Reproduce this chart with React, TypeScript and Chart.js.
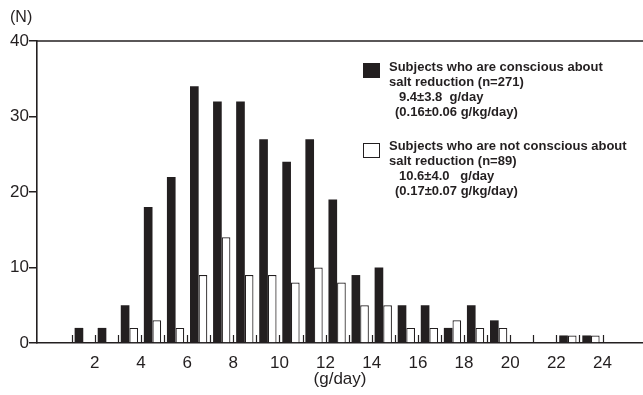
import React, { useEffect, useRef } from 'react';
import { Chart, registerables } from 'chart.js';

Chart.register(...registerables);

// ---- data ----
const binStarts = [1, 2, 3, 4, 5, 6, 7, 8, 9, 10, 11, 12, 13, 14, 15, 16, 17, 18, 19, 20, 21, 22, 23];
const consciousCounts = [2, 2, 5, 18, 22, 34, 32, 32, 27, 24, 27, 19, 9, 10, 5, 5, 2, 5, 3, 0, 0, 1, 1];
const notConsciousCounts = [0, 0, 2, 3, 2, 9, 14, 9, 9, 8, 10, 8, 5, 5, 2, 2, 3, 2, 2, 0, 0, 1, 1];
const xTickLabels = [2, 4, 6, 8, 10, 12, 14, 16, 18, 20, 22, 24];
const yTicks = [0, 10, 20, 30, 40];
const xTitle = '(g/day)';
const yTitle = '(N)';
const legendConscious = ['Subjects who are conscious about', 'salt reduction (n=271)', '9.4±3.8  g/day', '(0.16±0.06 g/kg/day)'];
const legendNotConscious = ['Subjects who are not conscious about', 'salt reduction (n=89)', '10.6±4.0   g/day', '(0.17±0.07 g/kg/day)'];

const INK = '#231f20';
const FONT = "'Liberation Sans', Arial, Helvetica, sans-serif";

const annotate = {
  id: 'annotate',
  afterDraw(chart: any) {
    const { ctx, chartArea, scales } = chart;
    const xs = scales.x;
    ctx.save();
    // top frame line
    ctx.strokeStyle = INK;
    ctx.lineWidth = 1.6;
    ctx.beginPath();
    ctx.moveTo(chartArea.left, chartArea.top);
    ctx.lineTo(chartArea.right, chartArea.top);
    ctx.stroke();
    // inner tick marks at bin boundaries
    ctx.lineWidth = 1.2;
    ctx.beginPath();
    const first = binStarts[0];
    const last = binStarts[binStarts.length - 1] + 1;
    for (let v = first; v <= last; v++) {
      const px = Math.round(xs.getPixelForValue(v)) + 0.5;
      ctx.moveTo(px, chartArea.bottom);
      ctx.lineTo(px, chartArea.bottom - 8);
    }
    ctx.stroke();
    // y unit
    ctx.fillStyle = INK;
    ctx.font = `16px ${FONT}`;
    ctx.textAlign = 'left';
    ctx.textBaseline = 'middle';
    ctx.fillText(yTitle, 10, 18);
    // legend
    const ds = chart.data.datasets;
    const groups = [
      { lines: legendConscious, top: 63, textY: 67, ds: ds[0] },
      { lines: legendNotConscious, top: 143, textY: 146, ds: ds[1] },
    ];
    const indents = [389, 389, 399, 395];
    ctx.font = `bold 13px ${FONT}`;
    groups.forEach((g) => {
      ctx.fillStyle = g.ds.backgroundColor;
      ctx.fillRect(363, g.top, 17, 15);
      ctx.strokeStyle = INK;
      ctx.lineWidth = 1;
      ctx.strokeRect(363.5, g.top + 0.5, 16, 14);
      ctx.fillStyle = INK;
      g.lines.forEach((t, i) => {
        ctx.fillText(t, indents[i], g.textY + i * 15.3);
      });
    });
    ctx.restore();
  },
};

export default function App() {
  const ref = useRef<HTMLCanvasElement | null>(null);
  useEffect(() => {
    if (!ref.current) return;
    const chart = new Chart(ref.current, {
      type: 'bar',
      data: {
        datasets: [
          {
            label: 'conscious',
            data: binStarts.map((b, i) => ({ x: b + 0.5, y: consciousCounts[i] })),
            backgroundColor: INK,
            borderWidth: 0,
            categoryPercentage: 0.75,
            barPercentage: 1,
          },
          {
            label: 'not conscious',
            data: binStarts.map((b, i) => ({ x: b + 0.5, y: notConsciousCounts[i] })),
            backgroundColor: '#ffffff',
            borderColor: INK,
            borderWidth: (c: any) => (c.raw && c.raw.y === 0 ? 0 : 1.2),
            categoryPercentage: 0.75,
            barPercentage: 1,
          },
        ] as any,
      },
      options: {
        responsive: false,
        animation: false,
        layout: { padding: { top: 41, right: 0, left: 0, bottom: 0 } },
        plugins: { legend: { display: false }, tooltip: { enabled: false } },
        scales: {
          x: {
            type: 'linear',
            min: 0,
            max: 25.25,
            grid: { display: false },
            border: { display: true, color: INK, width: 1.6 },
            ticks: {
              stepSize: 1,
              autoSkip: false,
              maxRotation: 0,
              padding: 2,
              color: INK,
              font: { family: FONT, size: 17 },
              callback: (v: any) => (xTickLabels.includes(Number(v)) ? String(v) : ''),
            },
            title: {
              display: true,
              text: xTitle,
              color: INK,
              font: { family: FONT, size: 17 },
              padding: { top: 0, bottom: 5 },
            },
            afterFit: (s: any) => {
              s.height = 52;
            },
          },
          y: {
            min: yTicks[0],
            max: yTicks[yTicks.length - 1],
            grid: { drawOnChartArea: false, drawTicks: true, tickLength: 8, color: INK, lineWidth: 1.5 },
            border: { display: true, color: INK, width: 1.6 },
            ticks: {
              stepSize: 10,
              padding: 0,
              color: INK,
              font: { family: FONT, size: 17 },
            },
            afterFit: (s: any) => {
              s.width = 37;
            },
          },
        },
      } as any,
      plugins: [annotate],
    });
    return () => chart.destroy();
  }, []);
  return (
    <div style={{ position: 'fixed', left: 0, top: 0, width: 643, height: 395, background: '#fff' }}>
      <canvas ref={ref} width={643} height={395} style={{ display: 'block' }} />
    </div>
  );
}
